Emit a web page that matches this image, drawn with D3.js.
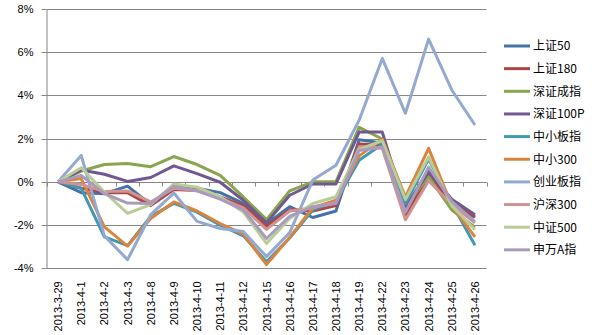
<!DOCTYPE html>
<html>
<head>
<meta charset="utf-8">
<script src="https://cdn.jsdelivr.net/npm/d3@7"></script>
<style>
  html, body { margin: 0; padding: 0; background: #fff; }
  svg { display: block; }
  text { font-family: "Liberation Sans", Arial, sans-serif; }
  .legend text { font-family: "Noto Sans CJK SC", "Liberation Sans", sans-serif; }
</style>
</head>
<body>
<svg id="chart" width="592" height="335"></svg>
<script>
// Trading dates
const dates = ["2013-3-29","2013-4-1","2013-4-2","2013-4-3","2013-4-8","2013-4-9","2013-4-10",
  "2013-4-11","2013-4-12","2013-4-15","2013-4-16","2013-4-17","2013-4-18","2013-4-19",
  "2013-4-22","2013-4-23","2013-4-24","2013-4-25","2013-4-26"];

// Cumulative returns (%) of each index since 2013-3-29
const sz50    = [0,-0.5,-0.55,-0.2,-1.05,-0.25,-0.3,-0.5,-1.0,-1.95,-1.15,-1.65,-1.35,1.95,1.8,-1.15,0.5,-0.9,-1.65];
const sz180   = [0,-0.3,-0.5,-0.5,-1.1,-0.35,-0.4,-0.7,-1.1,-2.05,-1.3,-1.35,-1.1,1.75,1.7,-1.6,0.3,-1.0,-1.6];
const szcz    = [0,0.5,0.8,0.85,0.7,1.17,0.8,0.3,-0.7,-1.75,-0.42,0.0,0.0,2.52,1.98,-1.1,0.23,-1.3,-2.1];
const sz100p  = [0,0.55,0.35,0.02,0.2,0.74,0.38,-0.02,-0.85,-1.9,-0.62,-0.1,-0.1,2.3,2.3,-1.2,0.46,-0.8,-1.52];
const zxbz    = [0,-0.3,-2.55,-2.95,-1.6,-1.0,-1.4,-2.0,-2.5,-3.7,-2.6,-1.3,-0.9,1.0,1.75,-1.0,1.05,-1.0,-2.93];
const zx300   = [0,0.15,-2.08,-2.97,-1.7,-0.93,-1.35,-1.93,-2.42,-3.83,-2.57,-1.2,-0.85,1.2,1.98,-0.7,1.55,-1.1,-2.55];
const cybz    = [0,1.22,-2.5,-3.6,-1.52,-0.52,-1.83,-2.16,-2.3,-3.46,-2.35,0.08,0.77,2.85,5.71,3.17,6.6,4.25,2.63];
const hs300   = [0,-0.12,-0.45,-0.42,-0.93,-0.3,-0.4,-0.75,-1.2,-2.2,-1.35,-1.2,-0.95,1.62,1.55,-1.75,0.05,-1.05,-1.9];
const zz500   = [0,0.65,-0.47,-1.46,-1.05,-0.1,-0.25,-0.69,-1.39,-2.85,-1.7,-1.0,-0.69,1.5,1.9,-0.82,1.15,-1.1,-2.22];
const swa     = [0,0.3,-0.55,-0.98,-1.0,-0.2,-0.42,-0.8,-1.3,-2.62,-1.6,-1.15,-1.0,1.45,1.6,-1.4,0.68,-0.9,-1.85];

const seriesNames = ["上证50","上证180","深证成指","深证100P","中小板指","中小300","创业板指","沪深300","中证500","申万A指"];
const seriesValues = [sz50, sz180, szcz, sz100p, zxbz, zx300, cybz, hs300, zz500, swa];
const seriesColors = ["#4572A7","#AA4643","#89A54E","#71588F","#4198AF","#DB843D","#93A9CF","#D19392","#B9CD96","#A99BBD"];

const yTicks = [-4,-2,0,2,4,6,8];

const svg = d3.select("#chart");
const plotLeft = 46.5, plotRight = 486.5, plotTop = 8.9, plotBottom = 268.3;
const gridColor = "#868686";

const x = d3.scaleBand().domain(dates).range([plotLeft, plotRight]);
const y = d3.scaleLinear().domain([-4, 8]).range([plotBottom, plotTop]);
const snap = v => Math.round(v) + 0.5;

// horizontal gridlines
svg.append("g").selectAll("line").data(yTicks).join("line")
  .attr("x1", plotLeft).attr("x2", plotRight)
  .attr("y1", d => snap(y(d))).attr("y2", d => snap(y(d)))
  .attr("stroke", gridColor).attr("stroke-width", 1);

// y axis
const yAxis = svg.append("g")
  .attr("transform", `translate(${plotLeft},0)`)
  .call(d3.axisLeft(y).tickValues(yTicks).tickSize(5).tickSizeOuter(0).tickPadding(8)
    .tickFormat(d => d + "%"));
yAxis.select(".domain").attr("stroke", gridColor);
yAxis.selectAll(".tick line").attr("stroke", gridColor);
yAxis.selectAll(".tick").attr("transform", d => `translate(0,${snap(y(d))})`);
yAxis.selectAll(".tick text").attr("fill", "#000").style("font-size", "11px")
  .style("font-family", "Liberation Sans, Arial, sans-serif");

// category axis along the 0% line, ticks at band boundaries
const y0 = snap(y(0));
const xg = svg.append("g");
xg.append("line").attr("x1", plotLeft).attr("x2", plotRight).attr("y1", y0).attr("y2", y0)
  .attr("stroke", gridColor);
xg.selectAll("line.tk").data(d3.range(dates.length + 1)).join("line").attr("class", "tk")
  .attr("x1", i => snap(plotLeft + i * x.step()))
  .attr("x2", i => snap(plotLeft + i * x.step()))
  .attr("y1", y0).attr("y2", y0 + 4)
  .attr("stroke", gridColor);

// rotated date labels below the plot
svg.append("g").selectAll("text").data(dates).join("text")
  .attr("transform", d => `translate(${x(d) + x.bandwidth() / 2 + 4},${plotBottom + 13}) rotate(-90)`)
  .attr("text-anchor", "end")
  .style("font-size", "11px")
  .attr("fill", "#000")
  .text(d => d);

// series lines
const line = d3.line()
  .x((d, i) => x(dates[i]) + x.bandwidth() / 2)
  .y(d => y(d));
svg.append("g").selectAll("path").data(seriesValues).join("path")
  .attr("d", d => line(d))
  .attr("fill", "none")
  .attr("stroke", (d, i) => seriesColors[i])
  .attr("stroke-width", 3)
  .attr("stroke-linejoin", "round");

// legend
const lg = svg.append("g").attr("class", "legend");
const legendTop = 46, legendStep = 22.65;
seriesNames.forEach((name, i) => {
  const ly = legendTop + i * legendStep;
  lg.append("line").attr("x1", 504).attr("x2", 530).attr("y1", ly).attr("y2", ly)
    .attr("stroke", seriesColors[i]).attr("stroke-width", 3);
  lg.append("text").attr("x", 533).attr("y", ly).attr("dy", "0.36em")
    .style("font-size", "12px").attr("fill", "#000").text(name);
});
</script>
</body>
</html>
